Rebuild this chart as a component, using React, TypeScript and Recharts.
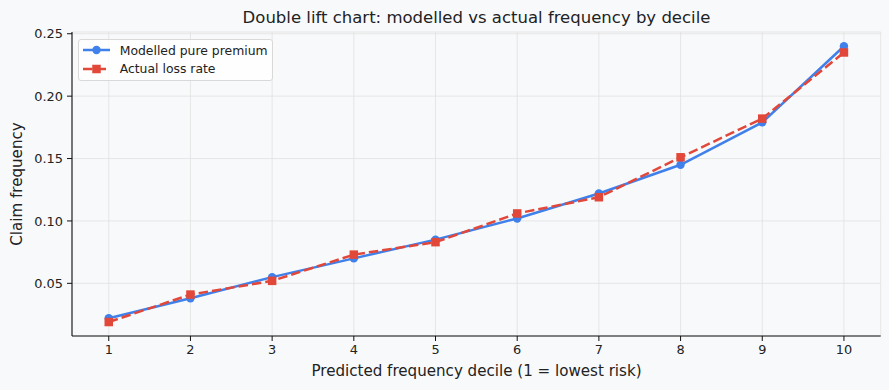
import { LineChart, Line, XAxis, YAxis, CartesianGrid } from 'recharts'

const deciles = [1, 2, 3, 4, 5, 6, 7, 8, 9, 10]
const modelled = [0.022, 0.038, 0.055, 0.07, 0.085, 0.102, 0.122, 0.145, 0.179, 0.24]
const actual = [0.019, 0.041, 0.052, 0.073, 0.083, 0.106, 0.119, 0.151, 0.182, 0.235]
const yTicks = [0.05, 0.1, 0.15, 0.2, 0.25]

const BLUE = '#3f80ea'
const RED = '#e2483a'
const BG = '#f8f9fb'
const FONT = '"DejaVu Sans", sans-serif'

const rows = deciles.map((d, i) => ({ decile: d, modelled: modelled[i], actual: actual[i] }))

const SquareDot = (props: any) => {
  const { cx, cy, index } = props
  if (cx == null || cy == null) return <g key={index} />
  return <rect key={index} x={cx - 4.25} y={cy - 4.25} width={8.5} height={8.5} fill={RED} />
}

const legendItems = [
  { label: 'Modelled pure premium', color: BLUE, dashed: false },
  { label: 'Actual loss rate', color: RED, dashed: true },
]

// legend box sits in the upper-left corner of the plot area
const LegendBox = () => (
  <div
    style={{
      position: 'absolute',
      left: 77.7,
      top: 39.3,
      boxSizing: 'border-box',
      width: 195,
      height: 42,
      background: 'rgba(255,255,255,0.8)',
      border: '1px solid #d9d9d9',
      borderRadius: 3,
      paddingTop: 1,
      fontSize: 12.4,
      color: '#222',
    }}
  >
    {legendItems.map((it) => (
      <div key={it.label} style={{ height: 18.3, display: 'flex', alignItems: 'center' }}>
        <svg width={32} height={12} style={{ marginLeft: 3, marginRight: 6 }}>
          <line
            x1={1}
            x2={28}
            y1={6}
            y2={6}
            stroke={it.color}
            strokeWidth={2.5}
            strokeDasharray={it.dashed ? '9.5 4' : undefined}
          />
          {it.dashed ? (
            <rect x={10.25} y={1.75} width={8.5} height={8.5} fill={it.color} />
          ) : (
            <circle cx={14.5} cy={6} r={4.2} fill={it.color} />
          )}
        </svg>
        <span style={{ whiteSpace: 'nowrap' }}>{it.label}</span>
      </div>
    ))}
  </div>
)

export default function App() {
  return (
    <div
      style={{
        position: 'fixed',
        left: 0,
        top: 0,
        width: 889,
        height: 390,
        background: BG,
        fontFamily: FONT,
        color: '#222',
      }}
    >
      <div
        style={{
          position: 'absolute',
          left: 72,
          width: 809,
          top: 8.3,
          lineHeight: '20px',
          fontSize: 16.5,
          textAlign: 'center',
          whiteSpace: 'nowrap',
        }}
      >
        Double lift chart: modelled vs actual frequency by decile
      </div>
      <LineChart
        width={889}
        height={390}
        data={rows}
        margin={{ top: 32, right: 8.3, left: 12, bottom: 24 }}
      >
        <CartesianGrid stroke="#e1e1e1" strokeWidth={0.8} />
        <XAxis
          dataKey="decile"
          type="number"
          domain={[0.55, 10.45]}
          ticks={deciles}
          allowDataOverflow
          height={30}
          tickSize={5}
          tickMargin={4}
          axisLine={{ stroke: '#111', strokeWidth: 1.1 }}
          tickLine={{ stroke: '#111', strokeWidth: 1 }}
          tick={{ fontSize: 12.9, fill: '#222', fontFamily: FONT }}
        />
        <YAxis
          type="number"
          domain={[0.0078, 0.2514]}
          ticks={yTicks}
          allowDataOverflow
          width={60}
          tickSize={5}
          tickMargin={4}
          tickFormatter={(v: number) => v.toFixed(2)}
          axisLine={{ stroke: '#111', strokeWidth: 1.1 }}
          tickLine={{ stroke: '#111', strokeWidth: 1 }}
          tick={{ fontSize: 12.9, fill: '#222', fontFamily: FONT }}
        />
        <Line
          type="linear"
          dataKey="modelled"
          stroke={BLUE}
          strokeWidth={2.5}
          dot={{ r: 4.2, fill: BLUE, stroke: BLUE, strokeWidth: 0 }}
          activeDot={false}
          isAnimationActive={false}
        />
        <Line
          type="linear"
          dataKey="actual"
          stroke={RED}
          strokeWidth={2.5}
          strokeDasharray="9.5 4"
          dot={SquareDot}
          activeDot={false}
          isAnimationActive={false}
        />
      </LineChart>
      <LegendBox />
      <div
        style={{
          position: 'absolute',
          left: 17,
          top: 184,
          transform: 'translate(-50%, -50%) rotate(-90deg)',
          fontSize: 15.1,
          lineHeight: '18px',
          whiteSpace: 'nowrap',
        }}
      >
        Claim frequency
      </div>
      <div
        style={{
          position: 'absolute',
          left: 72,
          width: 809,
          top: 361.8,
          lineHeight: '18px',
          fontSize: 15.1,
          textAlign: 'center',
          whiteSpace: 'nowrap',
        }}
      >
        Predicted frequency decile (1 = lowest risk)
      </div>
    </div>
  )
}
